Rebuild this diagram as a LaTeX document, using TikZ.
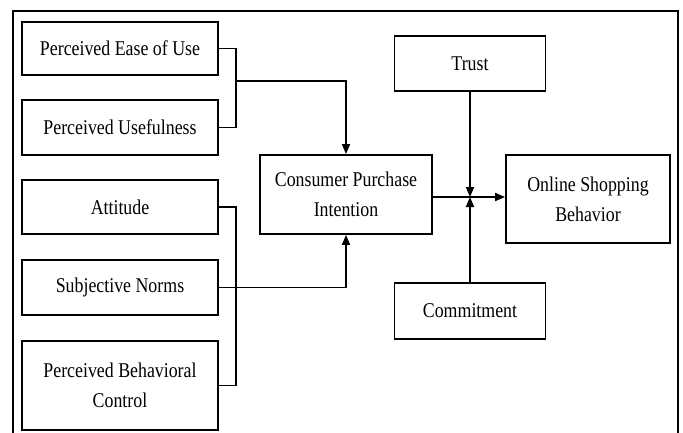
\documentclass[tikz,border=0pt]{standalone}
\usepackage{fontspec}
\setmainfont{Liberation Serif}[FakeStretch=0.85]
\usepackage{tikz}
\usetikzlibrary{arrows.meta,positioning,calc}
\tikzset{
	factor/.style={draw, line width=1.8pt, align=center, inner sep=2pt, font=\fontsize{21}{25}\selectfont},
	link/.style={line width=1.8pt},
	flow/.style={link, -{Triangle[length=10pt, width=8pt]}}
}

\begin{document}
\begin{tikzpicture}[x=1pt, y=-1pt]
	\useasboundingbox (0,0) rectangle (683,432);
	\draw[line width=1.5pt] (13,445) -- (13,11) -- (678,11) -- (678,445);
	% antecedents
	\node[factor, minimum width=196pt, minimum height=53pt] (peou) at (120,48.5) {Perceived Ease of Use};
	\node[factor, minimum width=196pt, minimum height=55pt] (pu) at (120,127.5) {Perceived Usefulness};
	\node[factor, minimum width=196pt, minimum height=54pt] (att) at (120,207) {Attitude};
	\node[factor, minimum width=196pt, minimum height=55pt] (sn) at (120,287.5) {Subjective Norms};
	\node[factor, minimum width=196pt, minimum height=89pt] (pbc) at (120,385.5) {Perceived Behavioral\\[5pt]Control};
	% intention and behavior
	\node[factor, minimum width=172pt, minimum height=79pt] (cpi) at (346,194.5) {Consumer Purchase\\[5pt]Intention};
	\node[factor, minimum width=164pt, minimum height=88pt] (osb) at (588,199) {Online Shopping\\[5pt]Behavior};
	\node[factor, minimum width=151pt, minimum height=55pt] (trust) at (470,63.5) {Trust};
	\node[factor, minimum width=151pt, minimum height=56pt] (com) at (470,311) {Commitment};
	\coordinate (j1) at (236,81);
	\coordinate (j2) at (236,287);
	\coordinate (m) at (470,197);
	% connectors
	\draw[link] (peou.east) -| (j1) |- (pu.east);
	\draw[flow] (j1) -| (cpi.north);
	\draw[link] (att.east) -| (j2) |- (pbc.east);
	\draw[flow] (sn.east) -| (cpi.south);
	\draw[flow] (cpi.east |- m) -- (osb.west |- m);
	\draw[flow] (trust.south) -- (m);
	\draw[flow] (com.north) -- (m);
\end{tikzpicture}
\end{document}
